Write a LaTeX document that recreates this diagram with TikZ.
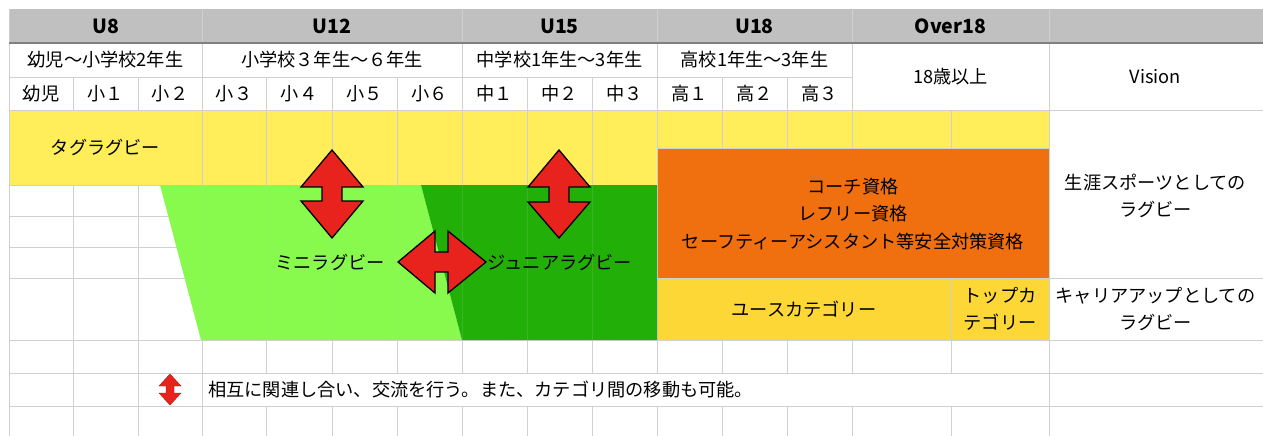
\documentclass[tikz,border=0pt]{standalone}
\usepackage{fontspec}
\setmainfont{Noto Sans CJK JP}
\definecolor{hdrgray}{HTML}{BFC0BF}
\definecolor{hdrline}{HTML}{808080}
\definecolor{gridc}{HTML}{D0D0D0}
\definecolor{yel}{HTML}{FFEE5A}
\definecolor{orng}{HTML}{F07010}
\definecolor{gold}{HTML}{FDD735}
\definecolor{lgreen}{HTML}{88FA4E}
\definecolor{dgreen}{HTML}{22B008}
\definecolor{arrred}{HTML}{E8231D}
\begin{document}
\begin{tikzpicture}[x=1pt,y=-1pt,
  grid/.style={draw=gridc, line width=0.9pt},
  faint/.style={draw=gridc, line width=0.9pt, opacity=0.15},
  lbl/.style={font=\fontsize{18.2}{27.5}\selectfont, align=center, inner sep=0pt},
  hdr/.style={font=\bfseries\fontsize{19.5}{22}\selectfont, inner sep=0pt},
  arr/.style={fill=arrred, draw=black, line width=1.3pt, line join=miter},
  arrsmall/.style={fill=arrred, draw=arrred!70!black, line width=0.4pt}]
\useasboundingbox (0,0) rectangle (1263,436);
\fill[white] (0,0) rectangle (1263,436);
% fills
\fill[hdrgray] (9,9) rectangle (1263,43);
\fill[yel] (9,110) rectangle (657,185);
\fill[yel] (657,110) rectangle (1049,148);
\fill[orng] (657,148) rectangle (1049,278);
\fill[gold] (657,278) rectangle (1049,340);
% grid: vertical
\draw[grid] (9,9) -- (9,436);
\foreach \x in {73,138} {\draw[grid] (\x,77) -- (\x,110); \draw[grid] (\x,185) -- (\x,436);}
\draw[grid] (202,9) -- (202,185);
\draw[grid] (202,340) -- (202,436);
\foreach \x in {266,332,397,527,592} {\draw[grid] (\x,77) -- (\x,185); \draw[grid] (\x,340) -- (\x,373); \draw[grid] (\x,406) -- (\x,436);}
\draw[grid] (462,9) -- (462,185);
\draw[grid] (462,340) -- (462,373); \draw[grid] (462,406) -- (462,436);
\draw[grid] (657,9) -- (657,373); \draw[grid] (657,406) -- (657,436);
\foreach \x in {722,787} {\draw[grid] (\x,77) -- (\x,148); \draw[grid] (\x,340) -- (\x,373); \draw[grid] (\x,406) -- (\x,436);}
\draw[grid] (852,9) -- (852,148); \draw[grid] (852,340) -- (852,373); \draw[grid] (852,406) -- (852,436);
\draw[grid] (951,110) -- (951,148); \draw[grid] (951,278) -- (951,373); \draw[grid] (951,406) -- (951,436);
\draw[grid] (1049,9) -- (1049,436);
% grid: horizontal
\draw[grid] (9,77) -- (852,77);
\draw[grid] (9,110) -- (1263,110);
\draw[grid] (657,148) -- (1049,148);
\draw[grid] (9,185) -- (657,185);
\draw[grid] (9,216) -- (180,216);
\draw[grid] (9,247) -- (185,247);
\draw[grid] (9,278) -- (195,278);
\draw[grid] (657,278) -- (1263,278);
\draw[grid] (9,340) -- (1263,340);
\draw[grid] (9,373) -- (1263,373);
\draw[grid] (9,406) -- (1263,406);
\draw[hdrline, line width=1.2pt] (9,43) -- (1263,43);
% greens
\fill[lgreen] (160,185) -- (421,185) -- (462,340) -- (201,340) -- cycle;
\fill[dgreen] (421,185) -- (657,185) -- (657,340) -- (462,340) -- cycle;
\foreach \x in {202,266,332,397,462,527,592} {\draw[faint] (\x,185) -- (\x,340);}
% header texts
\node[hdr] (u8) at (105.5,26) {U8};
\node[hdr] (u12) at (332,26) {U12};
\node[hdr] (u15) at (559.5,26) {U15};
\node[hdr] (u18) at (754.5,26) {U18};
\node[hdr] (o18) at (950.5,26) {Over18};
% row 2
\node[lbl] (g1) at (105.5,60) {幼児〜小学校2年生};
\node[lbl] (g2) at (332,60) {小学校３年生〜６年生};
\node[lbl] (g3) at (559.5,60) {中学校1年生〜3年生};
\node[lbl] (g4) at (754.5,60) {高校1年生〜3年生};
\node[lbl] (g5) at (950.5,76.5) {18歳以上};
\node[lbl] (vis) at (1155.5,76.5) {Vision};
% row 3
\node[lbl] (c1) at (41,93.5) {幼児};
\node[lbl] (c2) at (105.5,93.5) {小１};
\node[lbl] (c3) at (170,93.5) {小２};
\node[lbl] (c4) at (234,93.5) {小３};
\node[lbl] (c5) at (299,93.5) {小４};
\node[lbl] (c6) at (364.5,93.5) {小５};
\node[lbl] (c7) at (429.5,93.5) {小６};
\node[lbl] (c8) at (494.5,93.5) {中１};
\node[lbl] (c9) at (559.5,93.5) {中２};
\node[lbl] (c10) at (624.5,93.5) {中３};
\node[lbl] (c11) at (689.5,93.5) {高１};
\node[lbl] (c12) at (754.5,93.5) {高２};
\node[lbl] (c13) at (819.5,93.5) {高３};
% body texts
\node[lbl] (tag) at (105.5,147.5) {タグラグビー};
\node[lbl] (mini) at (330,262) {ミニラグビー};
\node[lbl] (jun) at (560,262) {ジュニアラグビー};
\node[lbl] (coach) at (853,214) {コーチ資格\\レフリー資格\\セーフティーアシスタント等安全対策資格};
\node[lbl] (youth) at (804,309) {ユースカテゴリー};
\node[lbl] (top) at (1000,309) {トップカ\\テゴリー};
\node[lbl] (life) at (1155.5,196) {生涯スポーツとしての\\ラグビー};
\node[lbl] (career) at (1155.5,309) {キャリアアップとしての\\ラグビー};
\node[lbl, anchor=west] (legend) at (208,389.5) {相互に関連し合い、交流を行う。また、カテゴリ間の移動も可能。};
% arrows
\draw[arr] (332,150) -- (363,187) -- (342,187) -- (342,201) -- (363,201) -- (332,238) -- (301,201) -- (322,201) -- (322,187) -- (301,187) -- cycle;
\draw[arr] (559,150) -- (590,187) -- (569,187) -- (569,202) -- (590,202) -- (559,238) -- (528,202) -- (549,202) -- (549,187) -- (528,187) -- cycle;
\draw[arr] (398,262) -- (435,231) -- (435,252) -- (448,252) -- (448,231) -- (486,262) -- (448,293) -- (448,272) -- (435,272) -- (435,293) -- cycle;
\draw[arrsmall] (170,374) -- (181,386) -- (174,386) -- (174,393) -- (181,393) -- (170,405) -- (159,393) -- (166,393) -- (166,386) -- (159,386) -- cycle;
\end{tikzpicture}
\end{document}
